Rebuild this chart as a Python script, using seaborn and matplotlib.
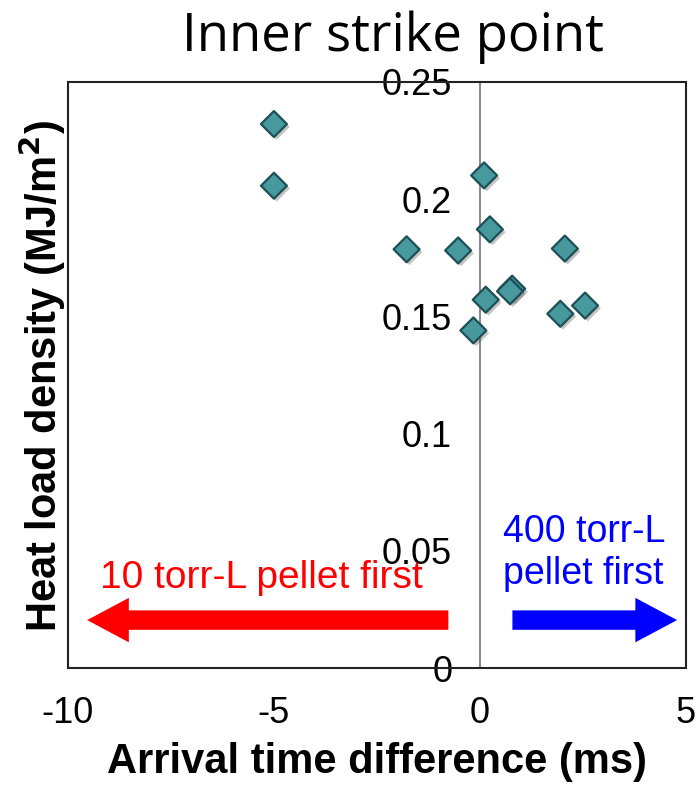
import matplotlib
matplotlib.use("Agg")
import pandas as pd
import matplotlib.pyplot as plt
import matplotlib.patheffects as pe
from matplotlib.patches import Rectangle
import seaborn as sns

# data
arrival_ms = [-5.0, -5.0, 0.10, -1.78, -0.53, 0.24, 2.06, 0.14, -0.16, 0.78, 0.73, 1.95, 2.55]
heat_load = [0.232, 0.2057, 0.2101, 0.1786, 0.1781, 0.1871, 0.1789, 0.1571, 0.144, 0.1618, 0.1607, 0.1511, 0.1546]
x_ticks = [-10, -5, 0, 5]
y_ticks = [0, 0.05, 0.1, 0.15, 0.2, 0.25]
y_tick_labels = ["0", "0.05", "0.1", "0.15", "0.2", "0.25"]

df = pd.DataFrame({"dt": arrival_ms, "q": heat_load})

sns.set_theme(style="white")
plt.rcParams["font.family"] = ["Liberation Sans", "DejaVu Sans"]
plt.rcParams["axes.unicode_minus"] = False
plt.rcParams["text.color"] = "black"

fig = plt.figure(figsize=(7, 7.87), dpi=100)
ax = fig.add_axes([0.097, 0.151, 0.883, 0.745])

sns.scatterplot(
    data=df, x="dt", y="q", marker="D", s=175,
    color="#47999e", edgecolor="#1d4f56", linewidth=1.6, ax=ax,
    legend=False, zorder=5,
)
ax.collections[0].set_path_effects(
    [pe.SimplePatchShadow(offset=(2, -2), alpha=0.35, shadow_rgbFace="#555555"), pe.Normal()]
)

ax.set_xlim(-10, 5)
ax.set_ylim(0, 0.25)

# y axis sits at x = 0, gray; frame drawn separately in black
for side in ["top", "right", "bottom"]:
    ax.spines[side].set_visible(False)
ax.spines["left"].set_position(("data", 0))
ax.spines["left"].set_color("#8c8c8c")
ax.spines["left"].set_linewidth(1.5)
ax.add_patch(Rectangle((0, 0), 1, 1, transform=ax.transAxes, fill=False,
                       edgecolor="#222222", linewidth=1.5, zorder=6, clip_on=False))

ax.set_yticks(y_ticks)
ax.set_yticklabels(y_tick_labels)
ax.tick_params(axis="y", direction="inout", length=16, width=1.2, color="#8c8c8c",
               labelsize=26, pad=12, labelcolor="black")
ax.set_xticks(x_ticks)
ax.tick_params(axis="x", length=0, labelsize=26, pad=20, labelcolor="black")

ax.set_xlabel("Arrival time difference (ms)", fontsize=30, fontweight="bold",
              labelpad=8, color="black")
ax.set_ylabel("")
fig.text(0.061, 0.522, "Heat load density (MJ/m$^\\mathbf{2}$)", rotation=90,
         fontsize=30, fontweight="bold", ha="center", va="center", color="black")

fig.text(0.562, 0.953, "Inner strike point", fontsize=38, ha="center", va="center",
         color="black", family=["Open Sans", "Liberation Sans", "DejaVu Sans"])

# direction annotations
ax.annotate("", xy=(-9.6, 0.0205), xytext=(-0.7, 0.0205),
            arrowprops=dict(arrowstyle="simple,head_length=1.5,head_width=1.6,tail_width=0.7",
                            color="#ff0000", lw=0, mutation_scale=20))
ax.annotate("", xy=(4.85, 0.0205), xytext=(0.72, 0.0205),
            arrowprops=dict(arrowstyle="simple,head_length=1.5,head_width=1.6,tail_width=0.7",
                            color="#0000ff", lw=0, mutation_scale=20))
ax.text(-5.3, 0.0385, "10 torr-L pellet first", color="#ff0000", fontsize=28,
        ha="center", va="center")
ax.text(0.55, 0.049, "400 torr-L\npellet first", color="#0000ff", fontsize=27,
        ha="left", va="center", linespacing=1.2)

fig.savefig("out.png", dpi=100)
